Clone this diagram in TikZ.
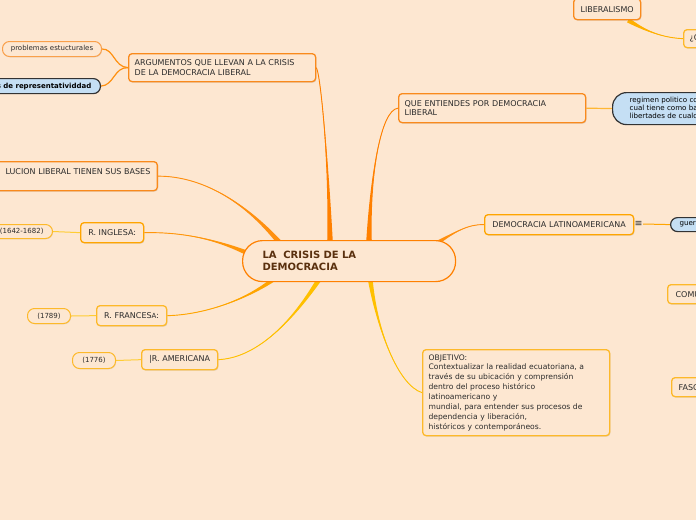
\documentclass[tikz,border=0pt]{standalone}
\usepackage{fontspec}
\setmainfont{DejaVu Sans}
\usetikzlibrary{calc,shadows}
\definecolor{bgc}{HTML}{FDE7D1}
\definecolor{orA}{HTML}{FF8000}
\definecolor{orB}{HTML}{FF9010}
\definecolor{orC}{HTML}{FFA500}
\definecolor{yeA}{HTML}{FFC000}
\definecolor{bdO}{HTML}{F98A1C}
\definecolor{bdY}{HTML}{FDB92A}
\definecolor{bdP}{HTML}{F9A04A}
\definecolor{blueF}{HTML}{C5DFF4}
\definecolor{txt}{HTML}{2B2B2B}
\definecolor{ctxt}{HTML}{5A300E}
\pgfdeclarelayer{back}\pgfdeclarelayer{conn}
\pgfsetlayers{back,conn,main}
\newcommand\taper[6]{%
  \fill[#1] ($#2+#6$) .. controls #3 and #4 .. #5 .. controls #4 and #3 .. ($#2-#6$) -- cycle;
  \draw[#1,line width=0.9pt] #2 .. controls #3 and #4 .. #5;}
\tikzset{
  box/.style={draw=bdO, line width=1.3pt, fill=bgc, rounded corners=3.5pt, inner sep=0pt,
    anchor=north west, text=txt, font=\fontsize{8}{9.5}\selectfont, align=left,
    drop shadow={opacity=0.22, shadow xshift=0.8pt, shadow yshift=-1pt}},
  bluebox/.style={draw=black!80, line width=1.2pt, fill=blueF, inner sep=0pt, text=black,
    font=\fontsize{7.1}{8}\selectfont, align=left},
  pill/.style={line width=1pt, fill=bgc, rounded corners=7pt, inner sep=0pt, text=txt,
    font=\fontsize{7}{8}\selectfont,
    drop shadow={opacity=0.18, shadow xshift=0.6pt, shadow yshift=-0.8pt}},
  thinc/.style={line width=1.2pt},
}
\begin{document}
\begin{tikzpicture}[x=1pt,y=-1pt]
\useasboundingbox (0,0) rectangle (696,520);
\begin{pgfonlayer}{back}
\fill[bgc] (0,0) rectangle (696,520);
\end{pgfonlayer}
\clip (0,0) rectangle (696,520);

% central node
\node[draw=orA, line width=1.2pt, fill=bgc, rounded corners=20pt, anchor=north west,
  minimum width=213pt, minimum height=41pt, inner xsep=20pt, inner ysep=0pt, text width=173pt,
  align=left, text=ctxt, font=\bfseries\fontsize{10}{12}\selectfont] (c) at (242,240)
  {LA\ \ CRISIS DE LA\\DEMOCRACIA};

% main branches
\node[box, minimum width=187pt, minimum height=28pt, inner xsep=6pt, text width=175pt] (arg) at (128,53)
  {ARGUMENTOS QUE LLEVAN A LA CRISIS\\DE LA DEMOCRACIA LIBERAL};
\node[box, minimum width=187pt, minimum height=29pt, inner xsep=6pt, text width=175pt] (que) at (398,93)
  {QUE ENTIENDES POR DEMOCRACIA\\LIBERAL};
\node[box, anchor=north east, minimum height=29pt, inner xsep=7pt, text width=184pt, align=right] (rev) at (158,161)
  {LUCION LIBERAL TIENEN SUS BASES\\\mbox{}};
\node[box, draw=orC, minimum width=63pt, minimum height=20pt, text width=55pt, inner xsep=4pt, align=center] (ing) at (80,222)
  {R. INGLESA:};
\node[box, draw=bdY, minimum width=70pt, minimum height=20pt, text width=62pt, inner xsep=4pt, align=center] (fra) at (96,305)
  {R. FRANCES\raisebox{-0.6pt}{\fontsize{7}{7}\selectfont A}:};
\node[box, draw=bdY, minimum width=76pt, minimum height=20pt, text width=68pt, inner xsep=4pt, align=center] (ame) at (141,349)
  {|R. AMERICANA};
\node[box, draw=bdY, minimum width=187pt, minimum height=86pt, inner xsep=6pt, text width=175pt,
  font=\fontsize{7.6}{9.9}\selectfont] (obj) at (422,349)
  {OBJETIVO:\\Contextualizar la realidad ecuatoriana, a\\trav\'es de su ubicaci\'on y comprensi\'on\\dentro del proceso hist\'orico\\latinoamericano y\\mundial, para entender sus procesos de\\dependencia y liberaci\'on,\\hist\'oricos y contempor\'aneos.};
\node[box, draw=orC, minimum width=149pt, minimum height=20pt, text width=141pt, inner xsep=4pt, align=center] (dla) at (484,214)
  {DEMOCRACIA LATINOAMERICANA};
\node[box, minimum width=67pt, minimum height=21pt, text width=59pt, inner xsep=4pt, align=center] (lib) at (573,-2)
  {LIBERALISMO};
\node[box, draw=bdY, minimum width=47pt, minimum height=18pt, text width=35pt, inner xsep=6pt] (qc) at (683,29)
  {¿C};
\node[box, draw=bdY, minimum width=60pt, minimum height=19pt, text width=44pt, inner xsep=8pt] (comu) at (667,284)
  {COMU};
\node[box, draw=bdY, minimum width=60pt, minimum height=19pt, text width=46pt, inner xsep=7pt] (fasc) at (671,377)
  {FASC};

% sub nodes
\node[pill, draw=bdP, anchor=north west, minimum width=99pt, minimum height=15pt] (prob) at (2,41)
  {problemas estucturales};
\node[bluebox, rounded corners=7pt, anchor=north east, minimum height=15pt, inner xsep=9pt,
  text width=125pt, align=right, font=\bfseries\fontsize{7}{8}\selectfont] (rep) at (101,78)
  {s de representatividdad};
\node[bluebox, rounded corners=14pt, anchor=north west, minimum height=32pt, inner xsep=17pt,
  text width=84pt] (reg) at (612,92)
  {regimen politico co\\cual tiene como ba\\libertades de cualq};
\node[bluebox, rounded corners=7pt, anchor=north west, minimum height=14pt, inner xsep=9pt,
  text width=42pt] (guer) at (670,217) {guer};
\node[font=\fontsize{9.5}{9.5}\selectfont, text=txt, inner sep=0.5pt] (eq) at (638.5,224) {≡};
\node[pill, draw=bdY, anchor=north east, minimum height=14pt, inner xsep=9pt, text width=80pt, align=right] (ingp) at (53,224)
  {(1642-1682)};
\node[pill, draw=bdY, anchor=north west, minimum width=43pt, minimum height=15pt] (frap) at (27,308) {(1789)};
\node[pill, draw=bdY, anchor=north west, minimum width=43pt, minimum height=16pt] (amep) at (72,352) {(1776)};

% connectors
\begin{pgfonlayer}{conn}
\coordinate (sArg) at ($(c.north west)+(88,2)$);
\coordinate (sQue) at ($(c.north west)+(127,2)$);
\coordinate (sDla) at ($(c.north west)+(190,6)$);
\coordinate (sRev) at ($(c.north west)+(42,8)$);
\coordinate (sIng) at ($(c.north west)+(12,16)$);
\coordinate (sFra) at ($(c.north west)+(36,36)$);
\coordinate (sAme) at ($(c.north west)+(78,38)$);
\coordinate (sObj) at ($(c.north west)+(128,38)$);
\coordinate (sLib) at ($(lib.south east)+(-13,0)$);
\taper{orA}{(sArg)}{(329,170)}{(321,75)}{(arg.east)}{(2.8,0)}
\taper{orA}{(sQue)}{(370,180)}{(380,110)}{(que.west)}{(2.8,0)}
\taper{orB}{(sDla)}{(455,232)}{(468,224)}{(dla.west)}{(1.4,2.2)}
\taper{orB}{(sRev)}{(245,200)}{(200,176)}{(rev.east)}{(2.2,-1.8)}
\taper{orB!70!orC}{(sIng)}{(215,238)}{(180,232)}{(ing.east)}{(1.2,-2.5)}
\taper{orC}{(sFra)}{(245,302)}{(200,315)}{(fra.east)}{(1.5,2)}
\taper{yeA}{(sAme)}{(290,325)}{(255,358)}{(ame.east)}{(2.1,1.4)}
\taper{yeA}{(sObj)}{(377,330)}{(398,385)}{(obj.west)}{(2.5,0)}
\taper{orC!60!yeA}{(sLib)}{(650,34)}{(668,38)}{(qc.west)}{(1.3,-2)}
\draw[thinc, orB] (arg.west) .. controls (114,67) and (114,48.5) .. (prob.east);
\draw[thinc, orB] (arg.west) .. controls (114,67) and (114,85.5) .. (rep.east);
\draw[thinc, orC!80!white] (que.east) -- (reg.west);
\draw[line width=1pt, yeA!80!white] (ing.west) -- (ingp.east);
\draw[line width=1pt, yeA!80!white] (fra.west) -- (frap.east);
\draw[line width=1pt, yeA!80!white] (ame.west) -- (amep.east);
\draw[line width=1pt, orC] (eq.east) -- (guer.west);
\end{pgfonlayer}
\end{tikzpicture}
\end{document}
